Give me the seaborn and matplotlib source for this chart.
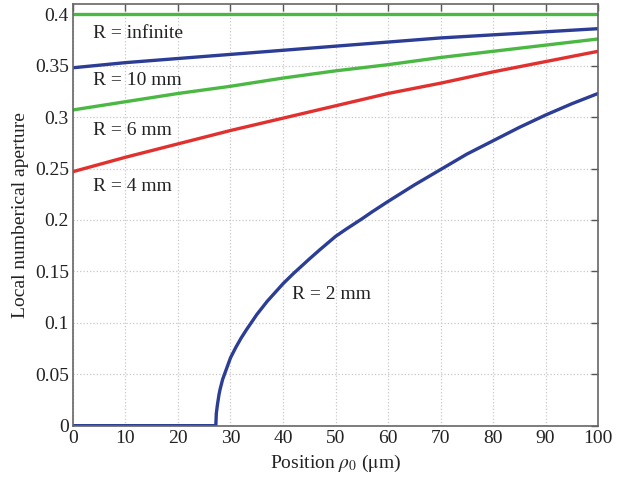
import numpy as np
import pandas as pd
import matplotlib
matplotlib.use("Agg")
import matplotlib.pyplot as plt
import seaborn as sns

# values
pos = [0, 10, 20, 30, 40, 50, 60, 70, 80, 90, 100]
na_inf = [0.400] * 11
na_10 = [0.348, 0.353, 0.357, 0.361, 0.365, 0.369, 0.373, 0.377, 0.380, 0.383, 0.386]
na_6 = [0.307, 0.315, 0.323, 0.330, 0.338, 0.345, 0.351, 0.358, 0.364, 0.370, 0.376]
na_4 = [0.247, 0.261, 0.274, 0.287, 0.299, 0.311, 0.323, 0.333, 0.344, 0.354, 0.364]

pos_2 = [0, 10, 20, 27.2, 27.3, 27.5, 27.8, 28, 28.5, 29, 30, 31, 32, 33, 35, 37, 40,
         42, 45, 47, 50, 52, 55, 57, 60, 65, 70, 75, 80, 85, 90, 95, 100]
na_2 = [0, 0, 0, 0, 0.012, 0.020, 0.030, 0.035, 0.045, 0.052, 0.066, 0.076, 0.085,
        0.093, 0.108, 0.121, 0.138, 0.148, 0.162, 0.171, 0.184, 0.191, 0.201, 0.208,
        0.218, 0.234, 0.249, 0.264, 0.277, 0.290, 0.302, 0.313, 0.323]

curves = {"inf": (pos, na_inf), "10": (pos, na_10), "6": (pos, na_6),
          "4": (pos, na_4), "2": (pos_2, na_2)}
colors = {"inf": "#4cb844", "10": "#2b3d94", "6": "#4cb844", "4": "#e0312f", "2": "#2b3d94"}

rows = []
for k, (xs, ys) in curves.items():
    for x, y in zip(xs, ys):
        rows.append((k, x, y))
df = pd.DataFrame(rows, columns=["R", "rho", "na"])

sns.set_style("white")
plt.rcParams["font.family"] = ["Liberation Serif", "DejaVu Serif"]
plt.rcParams["mathtext.fontset"] = "stix"

fig = plt.figure(figsize=(6.26, 4.88), dpi=100)
ax = fig.add_axes([0.1166, 0.1277, 0.8387, 0.8641])

sns.lineplot(data=df, x="rho", y="na", hue="R", palette=colors, linewidth=2.4,
             legend=False, ax=ax, sort=True, estimator=None)

ax.set_xlim(0, 100)
ax.set_ylim(0, 0.41)
ax.set_xticks(np.arange(0, 101, 10))
ax.set_yticks(np.arange(0, 0.41, 0.05))
ax.set_yticklabels(["0", "0.05", "0.1", "0.15", "0.2", "0.25", "0.3", "0.35", "0.4"])
ax.grid(True, color="#c8c8c8", linestyle=":", linewidth=0.9)
ax.tick_params(direction="in", length=5, width=1, top=True, right=True,
               labelsize=14, colors="#555555", labelcolor="#222222", pad=3)
for s in ax.spines.values():
    s.set_color("#666666")
    s.set_linewidth(1.2)

ax.set_xlabel(r"Position $\rho_0$ ($\mathrm{\mu}$m)", fontsize=14, color="#222222", labelpad=4)
ax.set_ylabel("Local numberical aperture", fontsize=14, color="#222222", labelpad=4)

txt = dict(fontsize=14, color="#222222", va="center", ha="left")
ax.text(3.8, 0.381, "R = infinite", **txt)
ax.text(3.8, 0.336, "R = 10 mm", **txt)
ax.text(3.8, 0.287, "R = 6 mm", **txt)
ax.text(3.8, 0.233, "R = 4 mm", **txt)
ax.text(41.8, 0.128, "R = 2 mm", **txt)

fig.savefig("out.png", dpi=100)
